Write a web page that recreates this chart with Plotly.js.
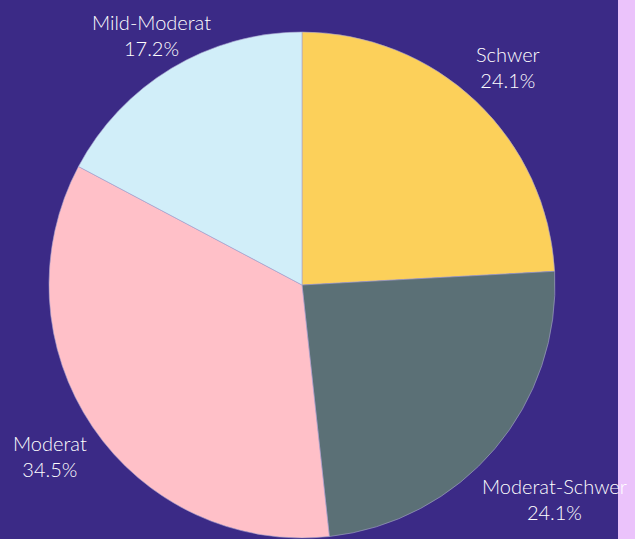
<!DOCTYPE html>
<html>
<head>
<meta charset="utf-8">
<script src="https://cdn.plot.ly/plotly-3.0.1.min.js"></script>
<style>html,body{margin:0;padding:0;background:#ebc3fb;}#plot{width:635px;height:539px;}</style>
</head>
<body>
<div id="plot"></div>
<script>
const categories = ["Schwer", "Moderat-Schwer", "Moderat", "Mild-Moderat"];
const counts = [7, 7, 10, 5];
const sliceColors = ["#fcd05a", "#5b7076", "#ffc0c8", "#d1eef9"];

const W = 635, H = 539;
const FONT = "Lato, 'Open Sans', sans-serif";
const FSIZE = 20;
const FWEIGHT = 300;
const domX = [49 / W, 555 / W], domY = [1 - 538 / H, 1 - 32 / H];

const data = [{
  type: "pie",
  labels: categories,
  values: counts,
  sort: false,
  direction: "clockwise",
  rotation: 0,
  textinfo: "none",
  marker: {colors: sliceColors, line: {color: "#a7a3cf", width: 0.6}},
  domain: {x: domX, y: domY},
  showlegend: false,
  hoverinfo: "label+percent"
}];

// outside labels placed along each slice's mid-angle (datalabels style, clamped at top)
const ctx = document.createElement("canvas").getContext("2d");
ctx.font = FWEIGHT + " " + FSIZE + "px " + FONT;
const total = counts.reduce((a, b) => a + b, 0);
const cx = (domX[0] + domX[1]) / 2 * W, cy = (1 - (domY[0] + domY[1]) / 2) * H;
const R = (domX[1] - domX[0]) * W / 2;
const annotations = [];
let cum = 0;
categories.forEach((c, i) => {
  const frac = counts[i] / total;
  const mid = (cum + frac / 2) * 2 * Math.PI;
  cum += frac;
  const vx = Math.sin(mid), vy = -Math.cos(mid);
  const pct = (frac * 100).toFixed(1) + "%";
  const hw = Math.max(ctx.measureText(c).width, ctx.measureText(pct).width) / 2;
  const hh = 23;
  let d = R + 8 + Math.abs(vx) * hw + Math.abs(vy) * hh;
  if (cy + vy * d - hh < 12) d = (12 + hh - cy) / vy;
  const px = cx + vx * d, py = cy + vy * d;
  annotations.push({
    xref: "paper", yref: "paper", x: px / W, y: 1 - py / H,
    xanchor: "center", yanchor: "middle", showarrow: false,
    text: c + "<br>" + pct, align: "center", borderpad: 0,
    font: {family: FONT, size: FSIZE, color: "#ffffff", weight: FWEIGHT}
  });
});

const layout = {
  width: W, height: H,
  margin: {l: 0, r: 0, t: 0, b: 0},
  paper_bgcolor: "#ebc3fb",
  shapes: [{
    type: "rect", xref: "paper", yref: "paper",
    x0: 0, x1: 618 / W, y0: 0, y1: 1,
    fillcolor: "#3b2a86", line: {width: 0}, layer: "below"
  }],
  annotations: annotations,
  font: {family: FONT, color: "#ffffff"}
};

Plotly.newPlot("plot", data, layout, {displayModeBar: false});
</script>
</body>
</html>
